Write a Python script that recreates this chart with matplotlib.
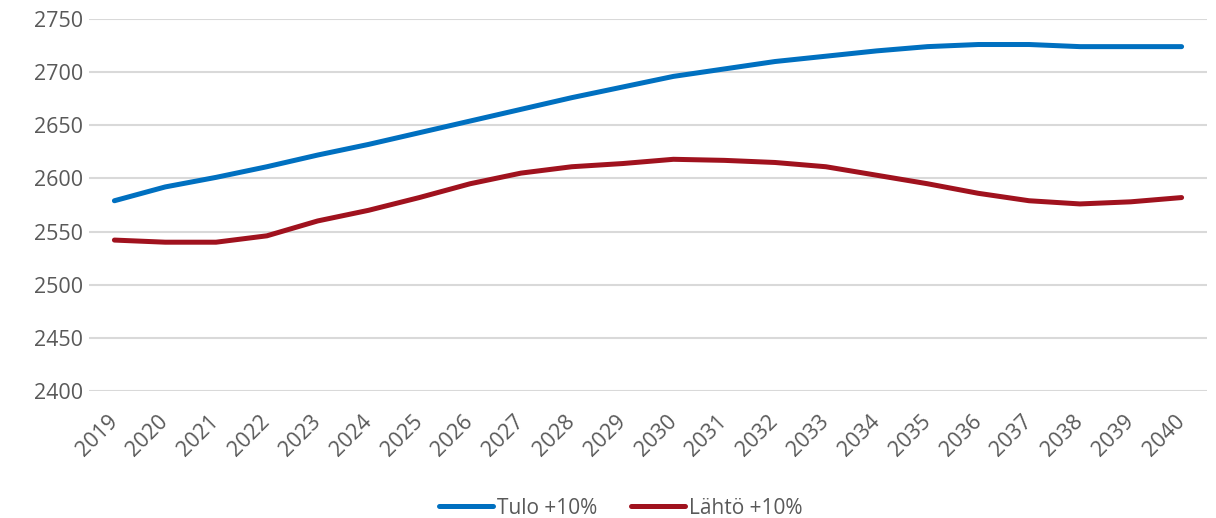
import matplotlib.pyplot as plt

plt.rcParams['font.family'] = ['Open Sans', 'DejaVu Sans']

years = [str(y) for y in range(2019, 2041)]
tulo = [2579, 2592, 2601, 2611, 2622, 2632, 2643, 2654, 2665, 2676, 2686,
        2696, 2703, 2710, 2715, 2720, 2724, 2726, 2726, 2724, 2724, 2724]
lahto = [2542, 2540, 2540, 2546, 2560, 2570, 2582, 2595, 2605, 2611, 2614,
         2618, 2617, 2615, 2611, 2603, 2595, 2586, 2579, 2576, 2578, 2582]

text_col = '#595959'

fig = plt.figure(figsize=(12.16, 5.18), dpi=100)
ax = fig.add_axes([89/1216, 1-391/518, (1207-89)/1216, (391-19)/518])

x = range(len(years))
ax.plot(x, tulo, color='#0070C0', lw=3.6, solid_capstyle='round', label='Tulo +10%')
ax.plot(x, lahto, color='#A0121E', lw=3.6, solid_capstyle='round', label='Lähtö +10%')

ax.set_xlim(-0.5, len(years)-0.5)
ax.set_ylim(2400, 2750)
ax.set_yticks(range(2400, 2751, 50))
ax.grid(axis='y', color='#D9D9D9', lw=1.5)
ax.set_axisbelow(True)
for s in ax.spines.values():
    s.set_visible(False)

ax.set_xticks(list(x))
ax.set_xticklabels(years, rotation=45, ha='right', va='center', rotation_mode='anchor')
ax.tick_params(axis='both', length=0, labelsize=15.5, colors=text_col)
ax.tick_params(axis='x', pad=20)
ax.tick_params(axis='y', pad=4)

fig.legend(loc='center', bbox_to_anchor=(621/1216, 1-508/518), ncol=2, frameon=False,
           fontsize=15, labelcolor=text_col, handlelength=2.6, handletextpad=0.2,
           columnspacing=1.6)

plt.savefig('out.png', dpi=100)
